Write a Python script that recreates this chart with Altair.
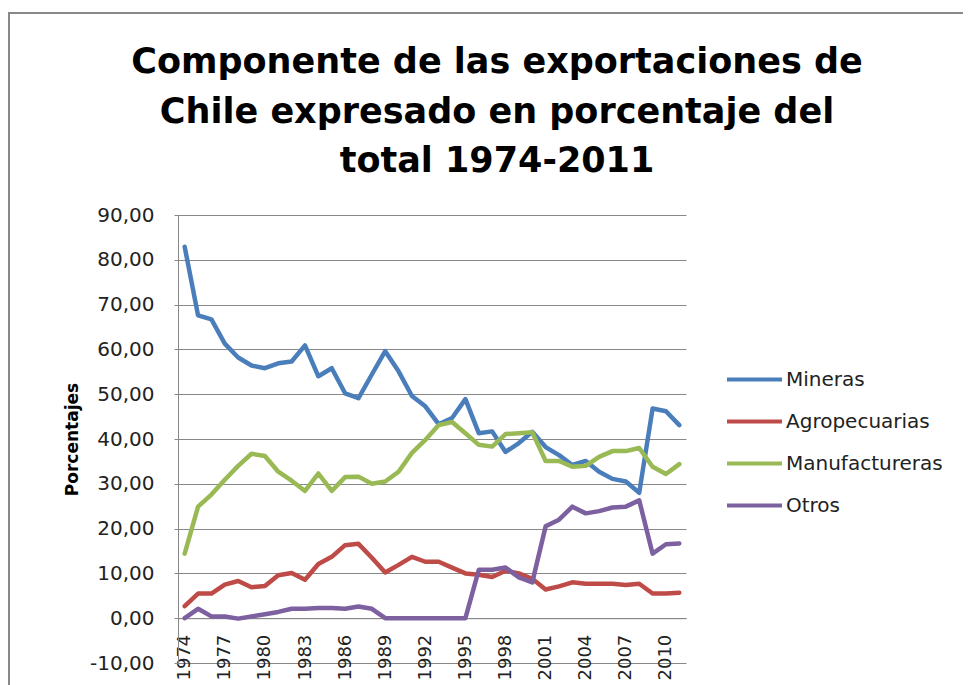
import altair as alt
import pandas as pd

years = list(range(1974, 2012))
series_names = ["Mineras", "Agropecuarias", "Manufactureras", "Otros"]
colors = ["#4A7EBB", "#BE4B48", "#98B954", "#7D60A0"]

mineras = [82.9, 67.6, 66.7, 61.3, 58.2, 56.4, 55.8, 56.9, 57.3, 60.9, 54.0, 55.8, 50.2,
           49.1, 54.4, 59.6, 55.1, 49.6, 47.3, 43.3, 44.7, 48.9,
           41.3, 41.7, 37.1, 39.1, 41.6, 38.2, 36.4, 34.2, 35.1, 32.7, 31.1, 30.5, 28.0, 46.8, 46.2, 43.1]
agropecuarias = [2.7, 5.5, 5.5, 7.5, 8.3, 6.9, 7.2, 9.6, 10.1, 8.6, 12.1, 13.7, 16.3,
                 16.6, 13.5, 10.2, 11.9, 13.7, 12.6, 12.6, 11.3, 10.0,
                 9.7, 9.2, 10.6, 10.0, 8.8, 6.4, 7.1, 8.0, 7.7, 7.7, 7.7, 7.4, 7.7, 5.5, 5.5, 5.7]
manufactureras = [14.4, 24.9, 27.6, 30.9, 34.0, 36.7, 36.2, 32.7, 30.7, 28.4, 32.3, 28.4, 31.5,
                  31.6, 30.0, 30.5, 32.7, 36.9, 39.8, 43.1, 43.8, 41.3,
                  38.7, 38.3, 41.1, 41.3, 41.5, 35.1, 35.1, 33.8, 34.0, 36.0, 37.3, 37.3, 38.0, 33.8, 32.2, 34.4]
otros = [0.0, 2.1, 0.4, 0.4, -0.1, 0.4, 0.9, 1.4, 2.1, 2.1, 2.3, 2.3, 2.1,
         2.6, 2.1, 0.0, 0.0, 0.0, 0.0, 0.0, 0.0, 0.0,
         10.8, 10.8, 11.3, 9.1, 8.0, 20.5, 22.0, 24.9, 23.4, 23.9, 24.7, 24.9, 26.3, 14.4, 16.5, 16.7]

x_label_years = list(range(1974, 2012, 3))
y_ticks = list(range(-10, 100, 10))
title_lines = ["Componente de las exportaciones de",
               "Chile expresado en porcentaje del",
               "total 1974-2011"]

rows = []
for name, vals in zip(series_names, [mineras, agropecuarias, manufactureras, otros]):
    for yr, v in zip(years, vals):
        rows.append({"year": yr, "value": v, "serie": name, "order": series_names.index(name)})
df = pd.DataFrame(rows)

y_label_expr = "replace(replace(format(datum.value, '.2f'), '.', ','), '\u2212', '-')"

lines = alt.Chart(df).mark_line(strokeWidth=4.5, strokeJoin="round", strokeCap="round").encode(
    x=alt.X("year:O",
            scale=alt.Scale(type="point", padding=0.5),
            axis=alt.Axis(values=x_label_years, labelAngle=270, title=None,
                          offset=-44.8, ticks=False, labelPadding=16,
                          labelFont="DejaVu Sans", labelFontSize=18, labelColor="#222",
                          domainColor="#888", domainWidth=1, grid=False)),
    y=alt.Y("value:Q",
            scale=alt.Scale(domain=[-10, 90], nice=False, zero=False),
            axis=alt.Axis(values=y_ticks, title="Porcentajes",
                          labelExpr=y_label_expr,
                          labelFont="DejaVu Sans", labelFontSize=20, labelColor="#222",
                          labelPadding=20, tickSize=4, tickColor="#888",
                          titleFont="DejaVu Sans", titleFontSize=17, titleFontWeight="bold",
                          titleColor="#000", titlePadding=8,
                          grid=True, gridColor="#888", gridWidth=1,
                          domainColor="#888", domainWidth=1)),
    color=alt.Color("serie:N",
                    scale=alt.Scale(domain=series_names, range=colors),
                    legend=alt.Legend(title=None, orient="none", legendX=547, legendY=135,
                                      symbolType="stroke", symbolSize=3025, symbolStrokeWidth=4,
                                      labelFont="DejaVu Sans", labelFontSize=20, labelColor="#222",
                                      labelOffset=2, rowPadding=2)),
    order=alt.Order("order:Q"),
)

border = alt.Chart(pd.DataFrame({"a": [0]})).mark_rect(
    fill=None, filled=False, stroke="#888", strokeWidth=2
).encode(
    x=alt.value(-169), x2=alt.value(1000), y=alt.value(-202), y2=alt.value(1000)
)

title = alt.Chart(pd.DataFrame({"a": [0]})).mark_text(
    font="DejaVu Sans", fontSize=35, fontWeight="bold", color="#000",
    align="center", baseline="alphabetic", lineHeight=49.5,
).encode(
    x=alt.value(319), y=alt.value(-142), text=alt.value(title_lines)
)

chart = alt.layer(border, title, lines).properties(
    width=508, height=448,
    autosize=alt.AutoSizeParams(type="none"),
    padding={"left": 170, "top": 207, "right": 277, "bottom": 26},
).configure_view(stroke=None)

chart.save("out.html", embed_options={"renderer": "svg", "actions": False})
